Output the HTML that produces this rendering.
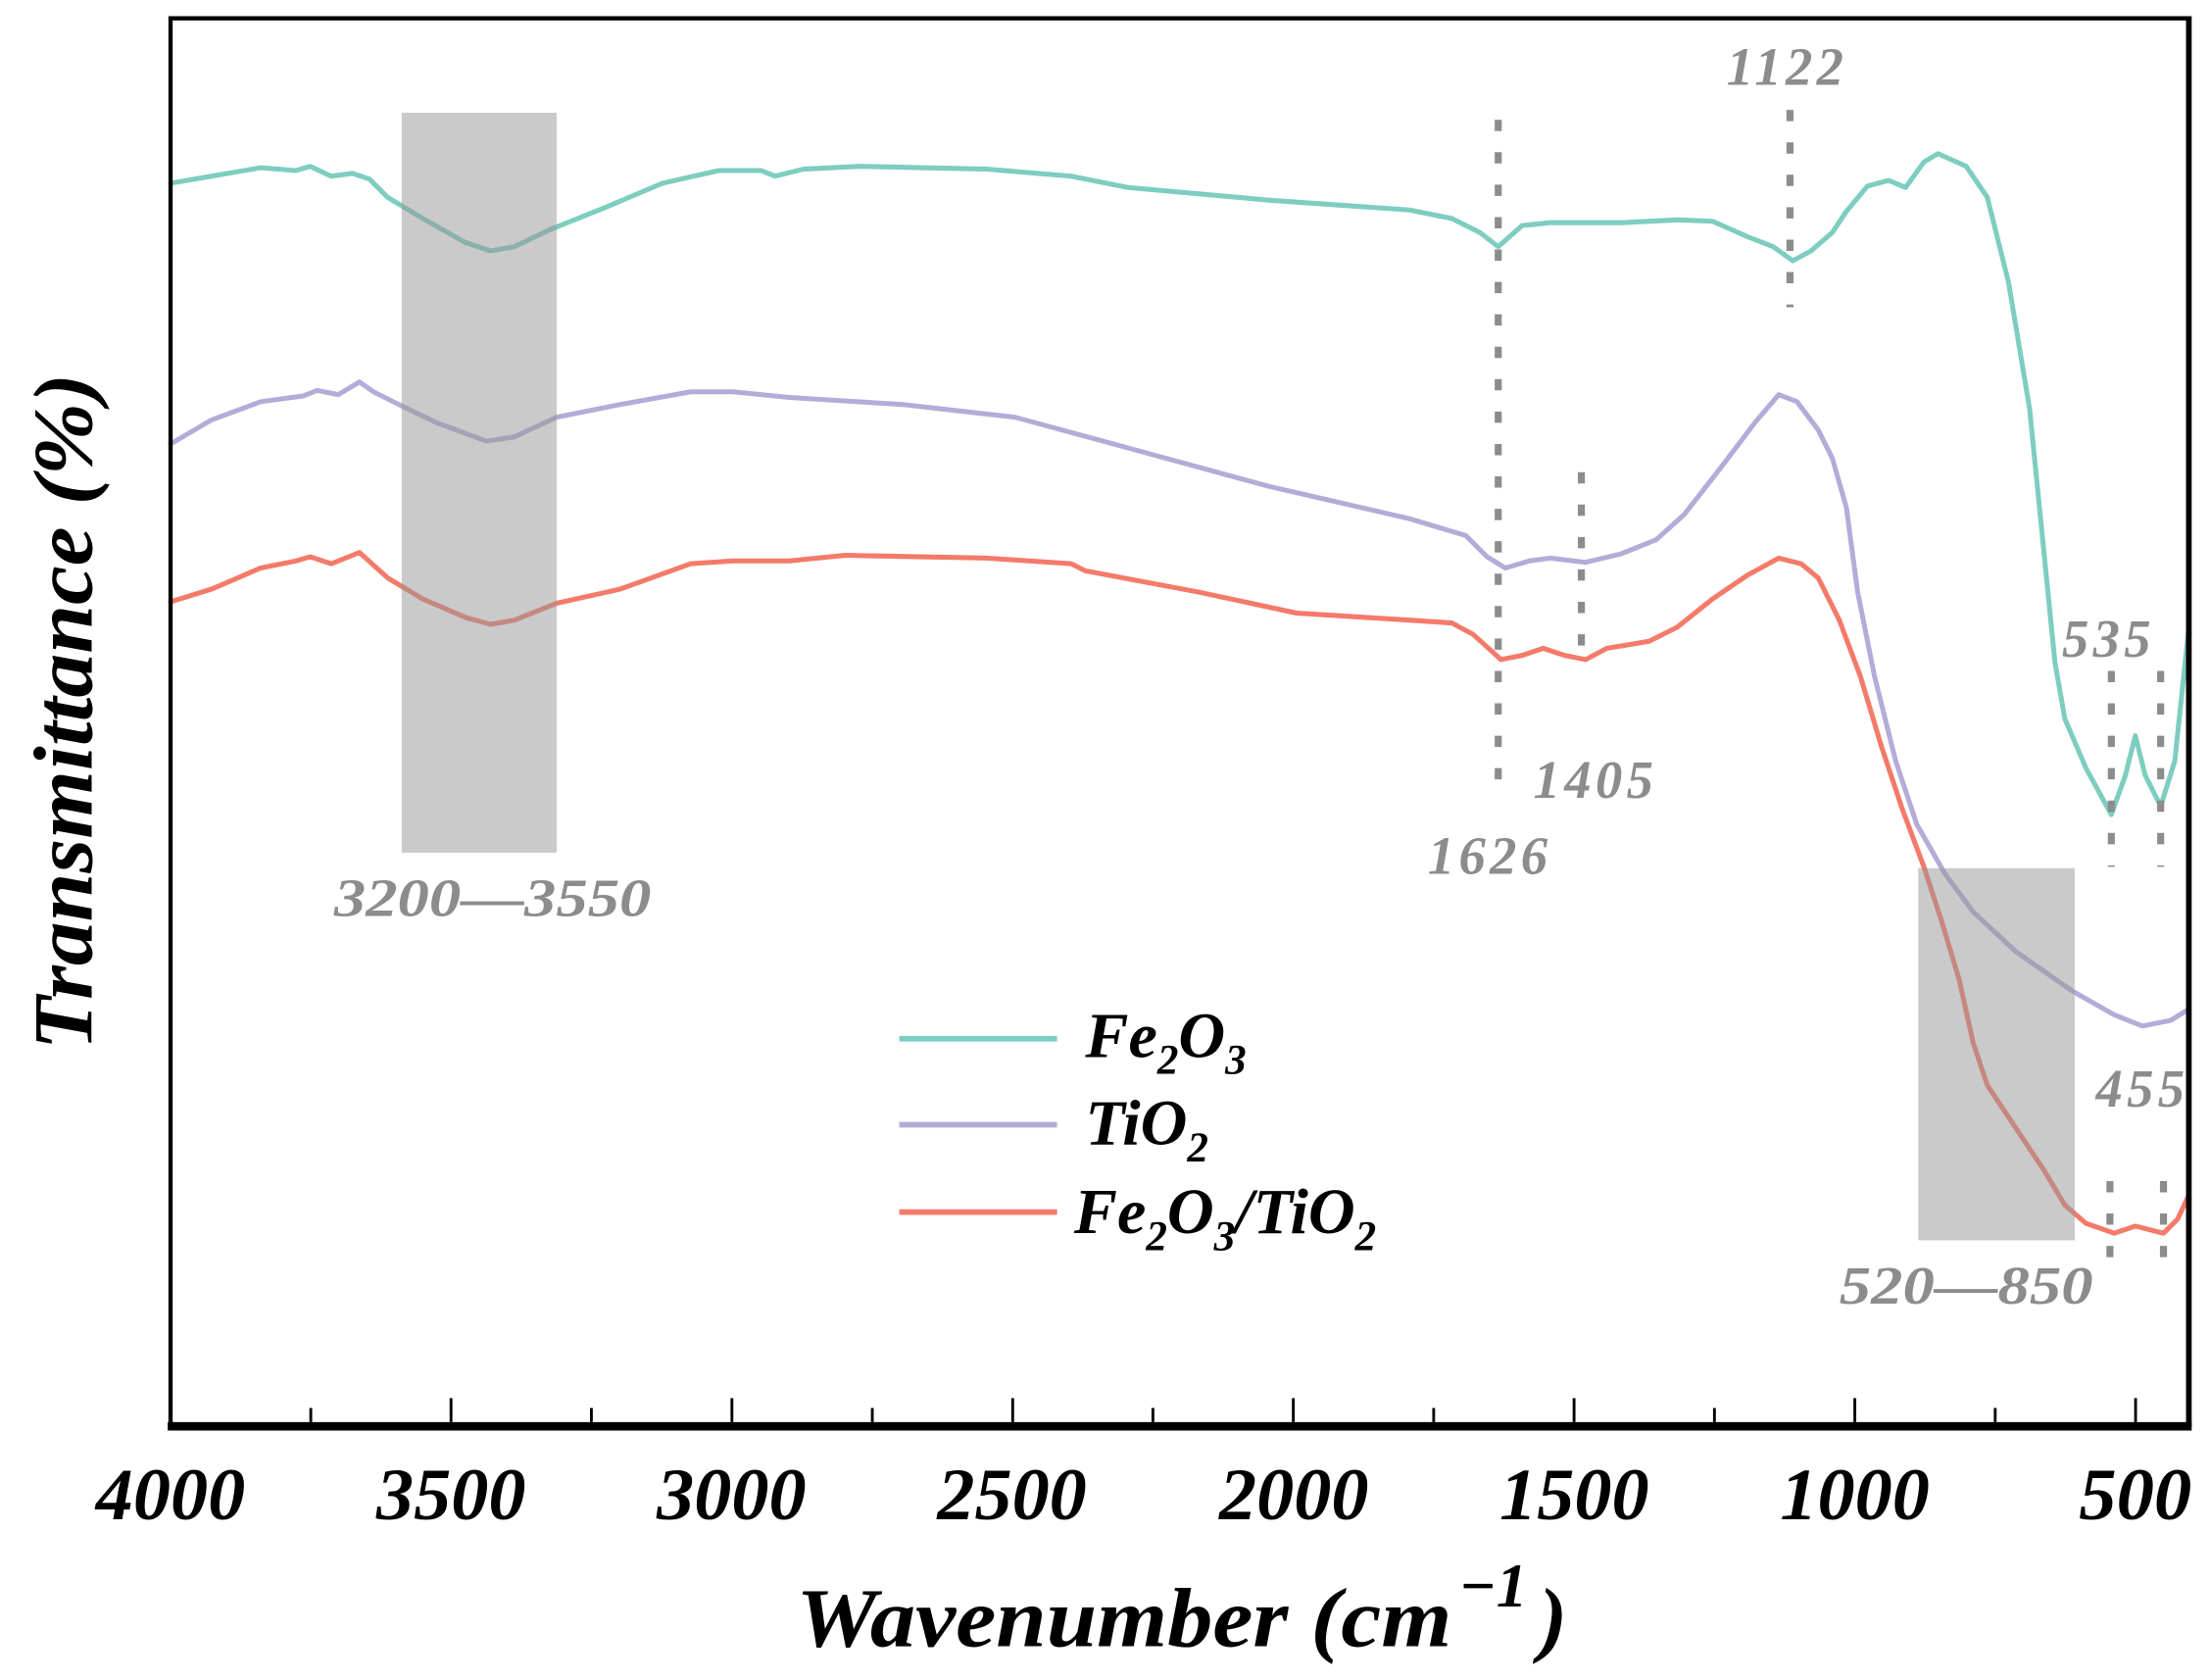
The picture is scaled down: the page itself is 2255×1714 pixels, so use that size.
<!DOCTYPE html>
<html><head><meta charset="utf-8"><style>
html,body{margin:0;padding:0;background:#fff;}
svg{display:block;}
text{font-family:"Liberation Serif",serif;font-style:italic;font-weight:bold;}
</style></head><body>
<svg width="2255" height="1714" viewBox="0 0 1568 1192" preserveAspectRatio="none" xmlns="http://www.w3.org/2000/svg">
<rect width="1568" height="1192" fill="#fff"/>
<g fill="none" stroke-width="3.5" stroke-linejoin="round" stroke-linecap="round">
<polyline stroke="#7ecdc1" points="121,130 150,125 185,119 210,121 220,118 235,125 250,123 262,127 275,140 300,155 330,172 348,178 365,175 390,163 430,147 470,130 510,121 540,121 550,125 570,120 610,118 700,120 760,125 800,133 900,142 1000,149 1030,155 1050,165 1063,175 1080,160 1100,158 1150,158 1190,156 1215,157 1240,168 1258,175 1272,185 1285,178 1300,165 1310,150 1325,132 1340,128 1352,133 1365,115 1375,109 1395,118 1410,140 1425,200 1440,290 1450,390 1458,470 1465,510 1480,545 1498,578 1508,550 1515,522 1522,550 1533,572 1543,540 1553,445"/>
<polyline stroke="#b4acd8" points="121,315 150,298 185,285 215,281 225,277 240,280 255,271 265,278 285,288 310,300 345,313 365,310 395,296 440,287 490,278 520,278 560,282 640,287 720,296 790,315 900,345 1000,368 1040,380 1055,395 1068,403 1085,398 1100,396 1125,399 1150,393 1175,383 1195,365 1220,333 1245,300 1262,280 1275,285 1290,305 1300,325 1310,360 1318,420 1330,480 1345,540 1360,585 1380,620 1400,647 1430,675 1470,703 1500,720 1520,728 1540,724 1553,716"/>
<polyline stroke="#f47a6a" points="121,427 150,418 185,403 210,398 220,395 235,400 255,392 275,410 300,425 330,438 348,443 365,440 395,428 440,418 490,400 520,398 560,398 600,394 700,396 760,400 770,405 850,420 920,435 1000,440 1030,442 1045,450 1065,468 1080,465 1095,460 1110,465 1125,468 1140,460 1170,455 1190,445 1215,425 1240,408 1262,396 1278,400 1290,410 1305,440 1320,480 1335,530 1350,575 1365,615 1378,655 1390,695 1400,740 1410,770 1430,800 1450,830 1465,855 1480,868 1500,875 1515,870 1535,875 1545,865 1553,848"/>
</g>
<rect x="285" y="80" width="110" height="525" fill="#969696" opacity="0.5"/>
<rect x="1361" y="616" width="111" height="264" fill="#969696" opacity="0.5"/>
<g stroke="#8c8c8c" stroke-width="5" stroke-dasharray="8 15">
<line x1="1063" y1="85" x2="1063" y2="565"/>
<line x1="1122" y1="335" x2="1122" y2="472"/>
<line x1="1270" y1="78" x2="1270" y2="218"/>
<line x1="1498" y1="476" x2="1498" y2="615"/>
<line x1="1533" y1="476" x2="1533" y2="615"/>
<line x1="1497" y1="838" x2="1497" y2="905"/>
<line x1="1535" y1="838" x2="1535" y2="905"/>
</g>
<g fill="#8c8c8c" font-size="38">
<text x="1225" y="60" letter-spacing="3">1122</text>
<text x="1463" y="466" letter-spacing="3">535</text>
<text x="1088" y="566" letter-spacing="3">1405</text>
<text x="1013" y="620" letter-spacing="3">1626</text>
<text x="237" y="650" textLength="225" lengthAdjust="spacingAndGlyphs">3200—3550</text>
<text x="1487" y="785" letter-spacing="3">455</text>
<text x="1305" y="925" textLength="180" lengthAdjust="spacingAndGlyphs">520—850</text>
</g>
<g stroke-width="4">
<line x1="638" y1="737" x2="750" y2="737" stroke="#7ecdc1"/>
<line x1="638" y1="798" x2="750" y2="798" stroke="#b4acd8"/>
<line x1="638" y1="860" x2="750" y2="860" stroke="#f47a6a"/>
</g>
<g fill="#000" font-size="46">
<text x="770" y="750">Fe<tspan font-size="30" dy="12">2</tspan><tspan dy="-12">O</tspan><tspan font-size="30" dy="12">3</tspan></text>
<text x="770" y="812">TiO<tspan font-size="30" dy="12">2</tspan></text>
<text x="762" y="875">Fe<tspan font-size="30" dy="12">2</tspan><tspan dy="-12">O</tspan><tspan font-size="30" dy="12">3</tspan><tspan dy="-12">/TiO</tspan><tspan font-size="30" dy="12">2</tspan></text>
</g>
<g stroke="#000" fill="none">
<line x1="121" y1="13" x2="1553" y2="13" stroke-width="3"/>
<line x1="121" y1="11.5" x2="121" y2="1012" stroke-width="3"/>
<line x1="1553" y1="11.5" x2="1553" y2="1012" stroke-width="4"/>
<line x1="119" y1="1012" x2="1555" y2="1012" stroke-width="6"/>
<g stroke-width="2">
<line x1="220.5" y1="1009" x2="220.5" y2="999"/>
<line x1="320" y1="1009" x2="320" y2="992"/>
<line x1="419.6" y1="1009" x2="419.6" y2="999"/>
<line x1="519.3" y1="1009" x2="519.3" y2="992"/>
<line x1="618.9" y1="1009" x2="618.9" y2="999"/>
<line x1="718.5" y1="1009" x2="718.5" y2="992"/>
<line x1="818" y1="1009" x2="818" y2="999"/>
<line x1="917.6" y1="1009" x2="917.6" y2="992"/>
<line x1="1017.2" y1="1009" x2="1017.2" y2="999"/>
<line x1="1116.8" y1="1009" x2="1116.8" y2="992"/>
<line x1="1216.4" y1="1009" x2="1216.4" y2="999"/>
<line x1="1316" y1="1009" x2="1316" y2="992"/>
<line x1="1415.6" y1="1009" x2="1415.6" y2="999"/>
<line x1="1515.2" y1="1009" x2="1515.2" y2="992"/>
</g>
</g>
<g fill="#000" font-size="52" text-anchor="middle">
<text x="121" y="1078" textLength="106" lengthAdjust="spacingAndGlyphs">4000</text>
<text x="320" y="1078" textLength="106" lengthAdjust="spacingAndGlyphs">3500</text>
<text x="519" y="1078" textLength="106" lengthAdjust="spacingAndGlyphs">3000</text>
<text x="718" y="1078" textLength="106" lengthAdjust="spacingAndGlyphs">2500</text>
<text x="918" y="1078" textLength="106" lengthAdjust="spacingAndGlyphs">2000</text>
<text x="1117" y="1078" textLength="106" lengthAdjust="spacingAndGlyphs">1500</text>
<text x="1316" y="1078" textLength="106" lengthAdjust="spacingAndGlyphs">1000</text>
<text x="1515" y="1078" textLength="80" lengthAdjust="spacingAndGlyphs">500</text>
</g>
<text x="565" y="1168" font-size="60" textLength="465" lengthAdjust="spacingAndGlyphs">Wavenumber (cm</text>
<text x="1035" y="1140" font-size="44">−1</text>
<text x="1092" y="1168" font-size="60">)</text>
<text transform="translate(65,505) rotate(-90)" text-anchor="middle" font-size="60" textLength="480" lengthAdjust="spacingAndGlyphs">Transmittance (%)</text>
</svg>
</body></html>
